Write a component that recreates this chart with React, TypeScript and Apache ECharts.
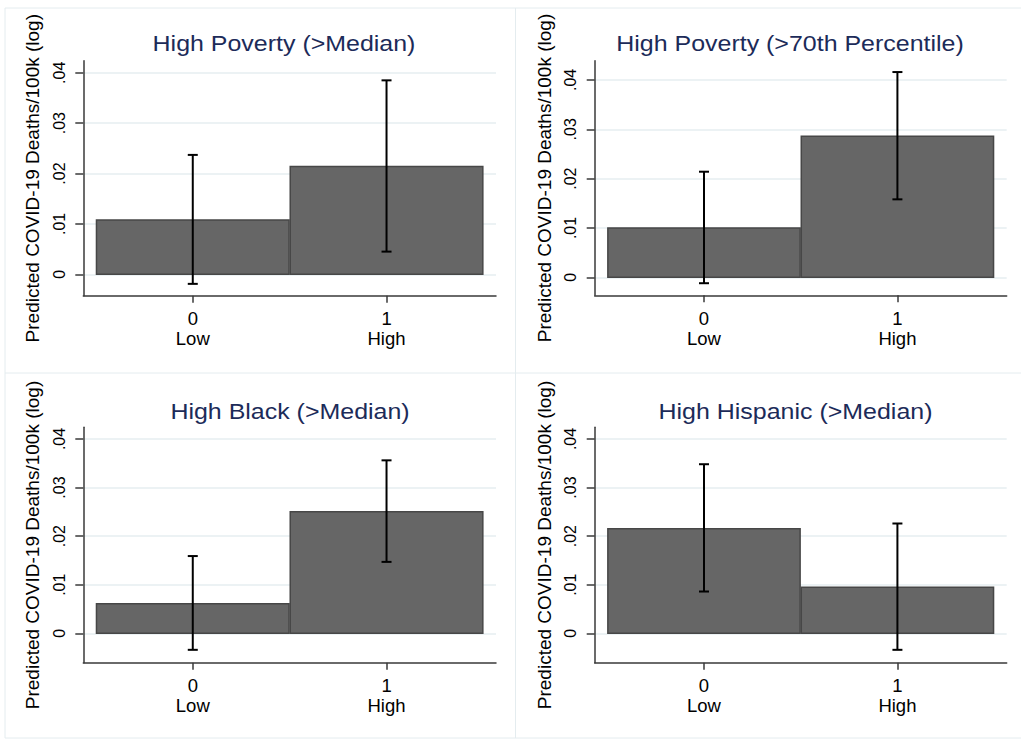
import React, { useEffect, useRef } from "react";
import * as echarts from "echarts";

const FONT = '"Liberation Sans", Arial, Helvetica, sans-serif';

const titles = [
  "High Poverty (>Median)",
  "High Poverty (>70th Percentile)",
  "High Black (>Median)",
  "High Hispanic (>Median)",
];
const yAxisName = "Predicted COVID-19 Deaths/100k (log)";
const xTicks = [0, 1];
const xLabels = ["Low", "High"];
const yTicks = [0, 0.01, 0.02, 0.03, 0.04];

// predicted values per panel: [Low, High]
const estimates = [
  [0.0108, 0.0214],
  [0.01, 0.0286],
  [0.0061, 0.025],
  [0.0215, 0.0095],
];
const ciLower = [
  [-0.0019, 0.0045],
  [-0.0012, 0.0158],
  [-0.0034, 0.0147],
  [0.0086, -0.0034],
];
const ciUpper = [
  [0.0237, 0.0385],
  [0.0214, 0.0416],
  [0.0159, 0.0356],
  [0.0348, 0.0226],
];
const yMin = [-0.00425, -0.00365, -0.00605, -0.00605];
const yMax = [0.0424, 0.0439, 0.0424, 0.0424];
const xMin = -0.565;
const xMax = 1.565;

const grids = [
  { left: 83.3, top: 60.7, width: 412.7, height: 235 },
  { left: 594.7, top: 60.7, width: 412, height: 234.6 },
  { left: 83.3, top: 427.3, width: 412.7, height: 235.4 },
  { left: 594.7, top: 427.3, width: 412, height: 235.4 },
];
const titlePos = [
  [284, 43.3],
  [790, 43.3],
  [290, 410.5],
  [795.5, 410.5],
];

const AXIS_COLOR = "#3a3a3a";
const GRID_COLOR = "#e6eef1";
const BORDER_COLOR = "#e4ecef";
const TITLE_COLOR = "#1c2b59";

function fmtY(v: number) {
  if (v === 0) return "0";
  return String(Number(v.toFixed(4))).replace(/^0/, "");
}

export default function App() {
  const ref = useRef<HTMLDivElement>(null);

  useEffect(() => {
    if (!ref.current) return;
    const chart = echarts.init(ref.current, undefined, { renderer: "svg" });

    const xAxes = grids.map((_, i) => ({
      gridIndex: i,
      type: "value",
      min: xMin,
      max: xMax,
      axisLine: { show: true, onZero: false, lineStyle: { color: AXIS_COLOR, width: 1.5 } },
      axisTick: { show: true, customValues: xTicks, length: 7, lineStyle: { color: AXIS_COLOR, width: 1.5 } },
      axisLabel: {
        customValues: xTicks,
        formatter: (v: number) => `${v}\n${xLabels[Math.round(v)]}`,
        fontSize: 18.5,
        lineHeight: 20,
        color: "#000",
        margin: 13,
        fontFamily: FONT,
      },
      splitLine: { show: false },
    }));

    const yAxes = grids.map((_, i) => ({
      gridIndex: i,
      type: "value",
      min: yMin[i],
      max: yMax[i],
      name: yAxisName,
      nameLocation: "middle",
      nameGap: 41,
      nameTextStyle: { fontSize: 19, color: "#000", fontFamily: FONT },
      axisLine: { show: true, onZero: false, lineStyle: { color: AXIS_COLOR, width: 1.5 } },
      axisTick: { show: true, customValues: yTicks, length: 8, lineStyle: { color: AXIS_COLOR, width: 1.5 } },
      axisLabel: {
        customValues: yTicks,
        rotate: 90,
        formatter: (v: number) => fmtY(v),
        fontSize: 16,
        color: "#000",
        margin: 16,
        fontFamily: FONT,
      },
      splitLine: { show: true, lineStyle: { color: GRID_COLOR, width: 1.5 } },
    }));

    const series: any[] = [];
    grids.forEach((_, i) => {
      series.push({
        type: "custom",
        xAxisIndex: i,
        yAxisIndex: i,
        z: 2,
        encode: { x: 0, y: 1 },
        data: xTicks.map((x, j) => [x, estimates[i][j]]),
        renderItem: (params: any, api: any) => {
          const x = api.value(0);
          const y = api.value(1);
          const a = api.coord([x - 0.497, y]);
          const b = api.coord([x + 0.497, 0]);
          return {
            type: "rect",
            shape: { x: a[0], y: Math.min(a[1], b[1]), width: b[0] - a[0], height: Math.abs(b[1] - a[1]) },
            style: { fill: "#666666", stroke: "#474747", lineWidth: 1.5 },
          };
        },
      });
      series.push({
        type: "custom",
        xAxisIndex: i,
        yAxisIndex: i,
        z: 3,
        encode: { x: 0, y: [1, 2] },
        data: xTicks.map((x, j) => [x, ciLower[i][j], ciUpper[i][j]]),
        renderItem: (params: any, api: any) => {
          const x = api.value(0);
          const lo = api.coord([x, api.value(1)]);
          const hi = api.coord([x, api.value(2)]);
          const h = 5;
          const st = { stroke: "#000", lineWidth: 2 };
          return {
            type: "group",
            children: [
              { type: "line", shape: { x1: lo[0], y1: lo[1], x2: hi[0], y2: hi[1] }, style: st },
              { type: "line", shape: { x1: lo[0] - h, y1: lo[1], x2: lo[0] + h, y2: lo[1] }, style: st },
              { type: "line", shape: { x1: hi[0] - h, y1: hi[1], x2: hi[0] + h, y2: hi[1] }, style: st },
            ],
          };
        },
      });
    });

    const borderLine = (x1: number, y1: number, x2: number, y2: number) => ({
      type: "line",
      silent: true,
      shape: { x1, y1, x2, y2 },
      style: { stroke: BORDER_COLOR, lineWidth: 1 },
    });

    const graphic: any[] = [
      borderLine(5, 8, 1021, 8),
      borderLine(5, 373, 1021, 373),
      borderLine(5, 738, 1021, 738),
      borderLine(5, 8, 5, 738),
      borderLine(515.5, 8, 515.5, 738),
      ...titles.map((t, i) => ({
        type: "text",
        x: titlePos[i][0],
        y: titlePos[i][1],
        scaleX: 1.11,
        style: {
          text: t,
          fontSize: 22.5,
          fontFamily: FONT,
          fill: TITLE_COLOR,
          align: "center",
          verticalAlign: "middle",
        },
      })),
    ];

    chart.setOption({
      animation: false,
      backgroundColor: "#ffffff",
      grid: grids.map((g) => ({ ...g, containLabel: false })),
      xAxis: xAxes,
      yAxis: yAxes,
      series,
      graphic,
    });

    return () => chart.dispose();
  }, []);

  return (
    <div
      ref={ref}
      style={{ position: "fixed", left: 0, top: 0, width: 1021, height: 740 }}
    />
  );
}
